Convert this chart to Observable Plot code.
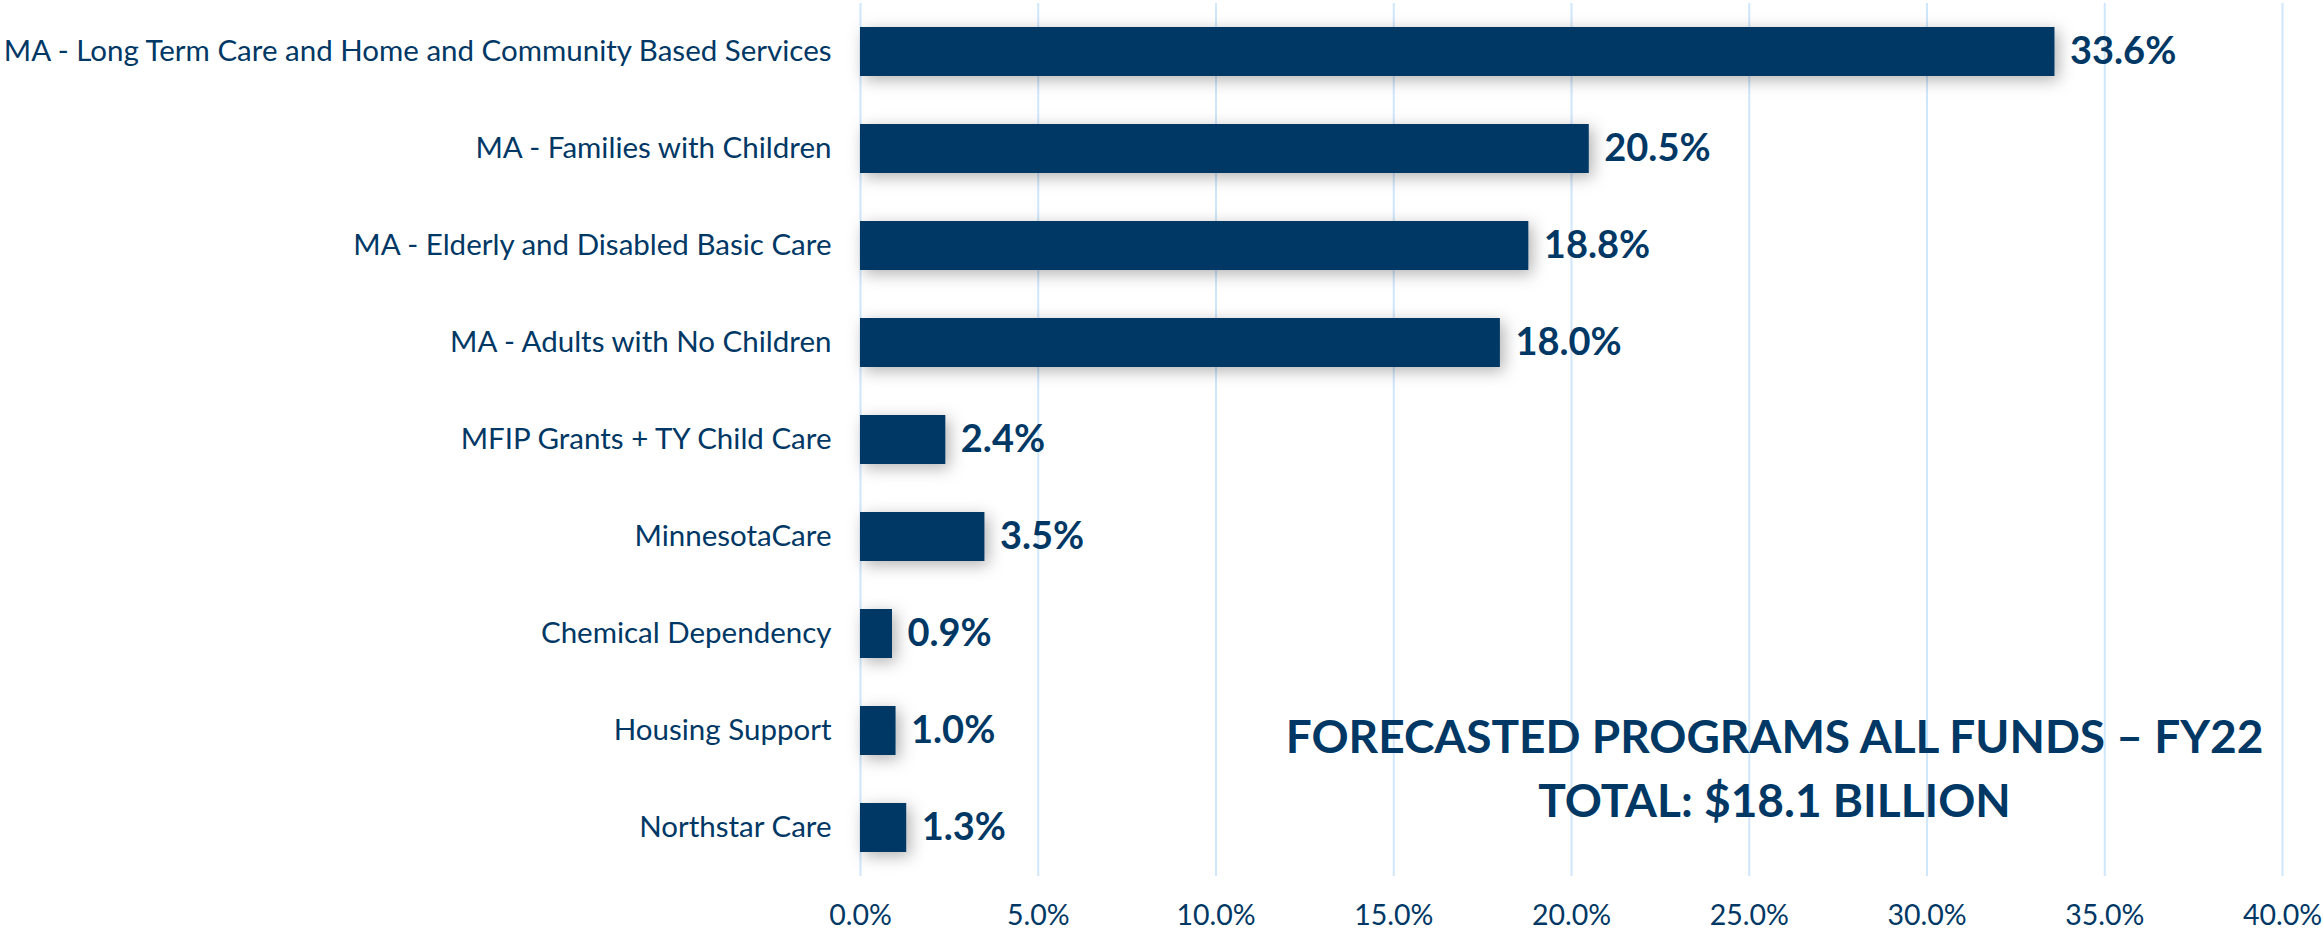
<!DOCTYPE html>
<html>
<head>
<meta charset="utf-8">
<script src="https://cdn.jsdelivr.net/npm/d3@7"></script>
<script src="https://cdn.jsdelivr.net/npm/@observablehq/plot@0.6"></script>
<style>
  html, body { margin: 0; padding: 0; background: #fff; }
  #chart { width: 2323px; height: 929px; }
</style>
</head>
<body>
<div id="chart"></div>
<script>
const categories = [
  "MA - Long Term Care and Home and Community Based Services",
  "MA - Families with Children",
  "MA - Elderly and Disabled Basic Care",
  "MA - Adults with No Children",
  "MFIP Grants + TY Child Care",
  "MinnesotaCare",
  "Chemical Dependency",
  "Housing Support",
  "Northstar Care"
];
const shares = [33.6, 20.5, 18.8, 18.0, 2.4, 3.5, 0.9, 1.0, 1.3];
const xTicks = [0, 5, 10, 15, 20, 25, 30, 35, 40];
const titleLines = ["FORECASTED PROGRAMS ALL FUNDS \u2013 FY22", "TOTAL: $18.1 BILLION"];

const data = categories.map((c, i) => ({category: c, value: shares[i]}));
const navy = "#003865";
const font = "Lato, 'Open Sans', sans-serif";

const chart = Plot.plot({
  width: 2323,
  height: 929,
  marginTop: 3,
  marginBottom: 53,
  marginLeft: 860,
  marginRight: 41,
  style: {fontFamily: font, color: navy, background: "#fff", overflow: "visible"},
  x: {domain: [0, 40], ticks: xTicks, label: null},
  y: {domain: categories, paddingInner: 0.5, paddingOuter: 0.25, label: null},
  marks: [
    Plot.gridX(xTicks, {stroke: "#cfe6fb", strokeOpacity: 1, strokeWidth: 2}),
    Plot.axisX(xTicks, {tickSize: 0, tickPadding: 28, fontSize: 28.5, fill: navy, tickFormat: d => d.toFixed(1) + "%", label: null}),
    Plot.axisY({tickSize: 0, tickPadding: 29, fontSize: 29.5, fill: navy, label: null}),
    Plot.barX(data, {x: "value", y: "category", fill: navy}),
    Plot.text(data, {x: "value", y: "category", text: d => d.value.toFixed(1) + "%", textAnchor: "start", dx: 15, fontSize: 38, fontWeight: "bold", fill: navy}),
    Plot.text([titleLines.join("\n")], {frameAnchor: "bottom", dx: 203, dy: -112, lineAnchor: "middle", lineHeight: 1.39, fontSize: 46, fontWeight: "bold", fill: navy})
  ]
});

// drop shadow on bars
const ns = "http://www.w3.org/2000/svg";
const defs = document.createElementNS(ns, "defs");
defs.innerHTML = '<filter id="barShadow" x="-20%" y="-80%" width="140%" height="260%"><feDropShadow dx="4" dy="4" stdDeviation="8" flood-color="#000" flood-opacity="0.3"/></filter>';
chart.insertBefore(defs, chart.firstChild);
const barG = chart.querySelector('g[aria-label="bar"]');
if (barG) barG.setAttribute("filter", "url(#barShadow)");

document.getElementById("chart").appendChild(chart);
</script>
</body>
</html>
